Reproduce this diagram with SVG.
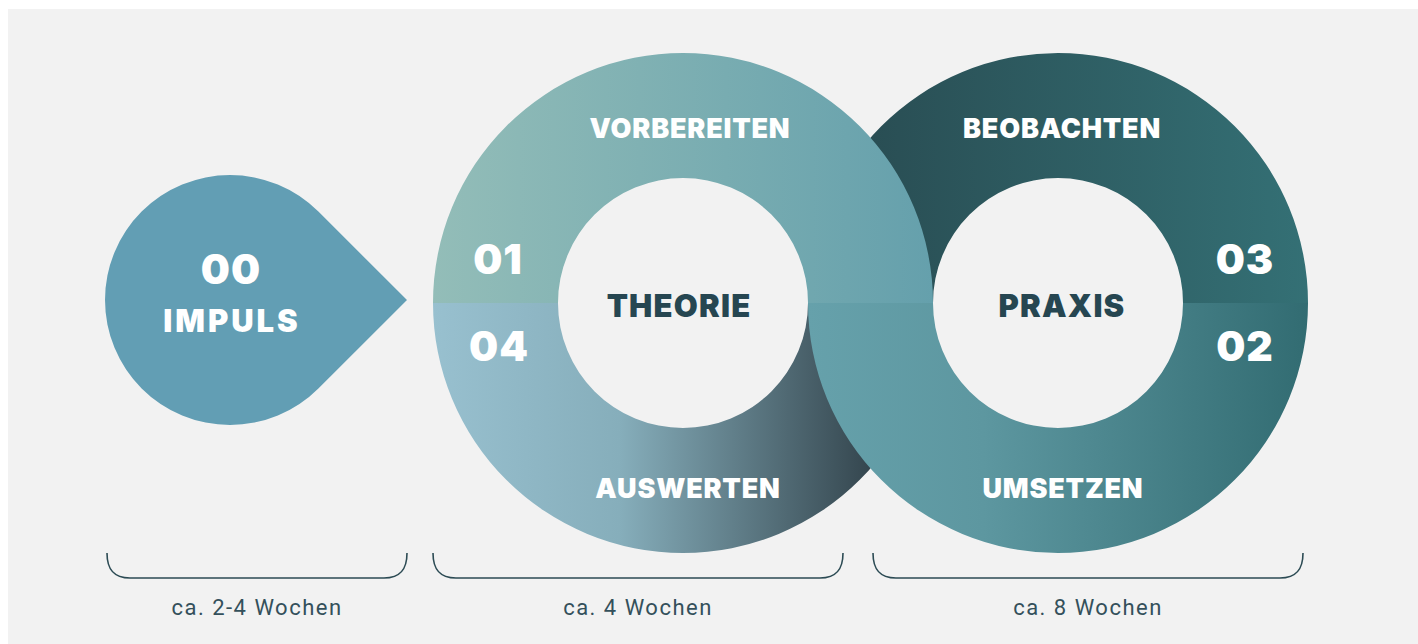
<svg xmlns="http://www.w3.org/2000/svg" width="1418" height="644" viewBox="0 0 1418 644">
  <defs>
    <linearGradient id="gTheoryTop" gradientUnits="userSpaceOnUse" x1="433" y1="0" x2="933" y2="0">
      <stop offset="0" stop-color="#93bdb8"/>
      <stop offset="1" stop-color="#65a0ac"/>
    </linearGradient>
    <linearGradient id="gTheoryBottom" gradientUnits="userSpaceOnUse" x1="433" y1="0" x2="900" y2="0">
      <stop offset="0" stop-color="#98c0cf"/>
      <stop offset="0.4" stop-color="#86aebb"/>
      <stop offset="1" stop-color="#2b3a42"/>
    </linearGradient>
    <linearGradient id="gPraxisTop" gradientUnits="userSpaceOnUse" x1="860" y1="0" x2="1308" y2="0">
      <stop offset="0" stop-color="#294d53"/>
      <stop offset="1" stop-color="#347075"/>
    </linearGradient>
    <linearGradient id="gPraxisBottom" gradientUnits="userSpaceOnUse" x1="808" y1="0" x2="1308" y2="0">
      <stop offset="0" stop-color="#66a1ab"/>
      <stop offset="0.35" stop-color="#5d97a0"/>
      <stop offset="1" stop-color="#326c72"/>
    </linearGradient>
    <style>
      .label { font-family: "Inter", "Roboto", "DejaVu Sans", sans-serif; font-weight: 900; fill: #ffffff; text-anchor: middle; }
      .step { font-size: 27px; letter-spacing: 0.8px; }
      .num { font-size: 41px; letter-spacing: 1px; }
      .impuls { font-size: 31px; letter-spacing: 3px; }
      .hub { font-family: "Inter", "Roboto", "DejaVu Sans", sans-serif; font-weight: 900; font-size: 31px; letter-spacing: 1.2px; fill: #264651; text-anchor: middle; }
      .brace { fill: none; stroke: #2c4b54; stroke-width: 1.6; }
      .dur { font-family: "Roboto", "Liberation Sans", sans-serif; font-size: 22px; letter-spacing: 1.5px; fill: #34505b; text-anchor: middle; }
    </style>
  </defs>

  <rect x="0" y="0" width="1418" height="644" fill="#ffffff"/>
  <rect x="8" y="9" width="1410" height="635" fill="#f2f2f2"/>

  <!-- Impulse drop -->
  <g id="impuls">
    <path d="M407 300 L318.4 388.4 A125 125 0 1 1 318.4 211.6 Z" fill="#629eb4"/>
    <text class="label num" x="231" y="284">00</text>
    <text class="label impuls" x="232" y="332">IMPULS</text>
  </g>

  <!-- Praxis ring, upper half (beneath the theory ring) -->
  <g id="beobachten">
    <path d="M808 303 A250 250 0 0 1 1308 303 L1183 303 A125 125 0 0 0 933 303 Z" fill="url(#gPraxisTop)"/>
    <text class="label step" x="1062" y="138">BEOBACHTEN</text>
    <text class="label num" x="1245" y="274">03</text>
  </g>

  <!-- Theory ring, lower half (beneath the praxis ring) -->
  <g id="auswerten">
    <path d="M433 303 A250 250 0 0 0 933 303 L808 303 A125 125 0 0 1 558 303 Z" fill="url(#gTheoryBottom)"/>
    <text class="label step" x="688" y="498">AUSWERTEN</text>
    <text class="label num" x="499" y="361">04</text>
  </g>

  <!-- Theory ring, upper half -->
  <g id="vorbereiten">
    <path d="M433 303 A250 250 0 0 1 933 303 L808 303 A125 125 0 0 0 558 303 Z" fill="url(#gTheoryTop)"/>
    <text class="label step" x="690" y="138">VORBEREITEN</text>
    <text class="label num" x="498" y="274">01</text>
  </g>

  <!-- Praxis ring, lower half -->
  <g id="umsetzen">
    <path d="M808 303 A250 250 0 0 0 1308 303 L1183 303 A125 125 0 0 1 933 303 Z" fill="url(#gPraxisBottom)"/>
    <text class="label step" x="1063" y="498">UMSETZEN</text>
    <text class="label num" x="1245" y="361">02</text>
  </g>

  <!-- Ring centres -->
  <g id="theorie">
    <text class="hub" x="679" y="317">THEORIE</text>
  </g>
  <g id="praxis">
    <text class="hub" x="1062" y="317">PRAXIS</text>
  </g>

  <!-- Duration braces -->
  <g id="connectors">
    <path class="brace" d="M107 553 C107 570 114 578 130 578 L384 578 C400 578 407 570 407 553"/>
    <path class="brace" d="M433 553 C433 570 440 578 456 578 L820 578 C836 578 843 570 843 553"/>
    <path class="brace" d="M873 553 C873 570 880 578 896 578 L1280 578 C1296 578 1303 570 1303 553"/>
  </g>

  <g id="durations">
    <text class="dur" x="257" y="615">ca. 2-4 Wochen</text>
    <text class="dur" x="638" y="615">ca. 4 Wochen</text>
    <text class="dur" x="1088" y="615">ca. 8 Wochen</text>
  </g>
</svg>
